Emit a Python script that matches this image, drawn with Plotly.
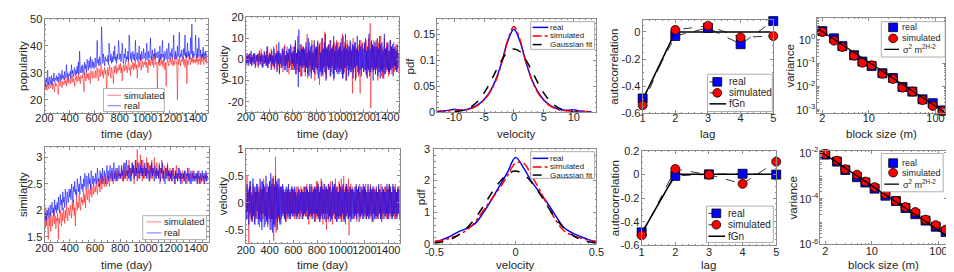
import plotly.graph_objects as go

W, H = 954, 272
FONT = "Liberation Sans, Arial, Helvetica, sans-serif"
AX = "#8c8c8c"
TXT = "#262626"
RED_T = "rgba(255,0,0,0.5)"
BLUE_T = "rgba(0,0,255,0.55)"

# ---------------- data ----------------
days = list(range(200, 1500, 5))

pop_real = [
    26, 27.5, 25, 28, 26.5, 31, 25.5, 27, 28.5, 26, 27, 29, 25.5, 28, 27, 30, 26.5, 28, 27.5, 29,
    27, 28.5, 26.5, 30, 28, 27, 29.5, 27.5, 31, 28, 29, 27.5, 30.5, 28, 29, 33, 28.5, 30, 27.5, 29.5,
    29, 30.5, 28, 33, 29.5, 31, 28.5, 30, 32, 29, 31, 29.5, 32.5, 30, 34, 29.5, 38, 31, 30, 32.5,
    30, 33, 31, 29.5, 34, 31.5, 33, 30.5, 35, 32, 31, 34.5, 32, 36, 31.5, 33, 35, 32, 34, 31.5,
    33, 35.5, 32, 34, 42, 33.5, 35, 32.5, 36, 34, 33, 47, 35, 33.5, 37, 34, 32.5, 36, 34.5, 35,
    34, 36.5, 33, 41, 35, 34.5, 37, 33.5, 36, 34, 38, 35, 40, 34.5, 36, 33.5, 37, 35, 42, 35.5,
    35, 37, 34, 36.5, 41, 35, 33.5, 37, 35.5, 39, 34, 36, 35, 38, 34.5, 44, 36, 35, 37.5, 34,
    36, 38, 35, 37, 34.5, 42, 36, 35, 37.5, 34, 36.5, 40, 35, 37, 34.5, 38, 36, 35, 39, 35.5,
    36, 37.5, 35, 41, 36, 34.5, 38, 35.5, 37, 43, 35, 36.5, 38.5, 34.5, 37, 36, 39, 35, 37.5, 36,
    35.5, 38, 36, 34, 40, 35, 37, 36, 42, 35.5, 37, 34.5, 38, 36, 35, 39, 36.5, 35, 41, 36,
    35, 37.5, 36, 39, 35.5, 37, 44, 36, 35, 38, 36.5, 35, 40, 36, 37.5, 45, 35.5, 37, 36, 38.5,
    36, 35, 39, 36.5, 44, 36, 37.5, 35.5, 41, 36, 38, 36.5, 35, 43, 37, 48, 36, 38, 35.5, 37,
    36.5, 44, 37, 35.5, 39, 36, 43, 37, 36, 38.5, 35.5, 37, 36, 39.5, 35, 37.5, 36, 38, 35.5, 37]
pop_sim = [
    25, 26, 24, 25.5, 23.5, 26.5, 25, 24, 26, 25, 24.5, 27, 25.5, 24, 26, 25, 23, 26.5, 25, 26,
    25.5, 24.5, 22, 27, 26, 25, 27.5, 26, 24.5, 27, 26.5, 25.5, 28, 26, 27, 25, 28.5, 26.5, 27.5, 26,
    27, 28, 26, 27.5, 29, 26.5, 28, 27, 25, 28.5, 27.5, 29, 26.5, 28, 30, 27, 28.5, 26, 29, 28,
    28, 29.5, 27, 23, 30, 28.5, 27, 31, 28, 29.5, 27.5, 30, 28, 26, 31, 29, 28, 30.5, 29, 28,
    29, 31, 28, 30.5, 32, 29, 27, 31.5, 30, 28.5, 33, 30, 29, 31, 28, 30.5, 32, 29.5, 31, 24,
    30, 32, 29, 31.5, 33, 30, 28, 32, 31, 29.5, 26, 32.5, 30, 31, 33, 29.5, 32, 30.5, 31, 33,
    31, 33.5, 30, 32, 27, 31.5, 33, 30.5, 32, 34, 31, 32.5, 30, 33.5, 35, 31, 32, 29, 33, 31.5,
    32, 34, 31, 33.5, 32, 35, 31.5, 33, 28, 32.5, 34, 32, 33.5, 36, 31, 33, 34.5, 32, 33, 34,
    33, 35.5, 32, 34, 33, 30, 34.5, 33, 35, 32.5, 34, 36, 33, 34.5, 32, 35, 37, 33, 34, 33.5,
    24, 34, 33, 35, 32.5, 34, 36, 33, 34.5, 32, 35, 33.5, 31, 34, 25, 33, 35, 34, 32.5, 34.5,
    34, 35.5, 33, 34, 36, 32.5, 34.5, 33, 35, 37, 33.5, 34, 20, 35, 33, 36, 34, 32.5, 35, 34,
    34.5, 36, 33, 35, 32, 34, 36.5, 26, 34.5, 33, 35, 37, 34, 33, 35.5, 34, 36, 33.5, 35, 34,
    35, 33.5, 36, 34, 37, 33, 35, 34.5, 36, 33, 35.5, 34, 37, 34.5, 33, 35, 36, 34, 35.5, 33]

vel1_real = [
    1, -2, 3, -1.5, 2, -3, 0.5, 2.5, -2, 4, -3, 1, -1, 2.5, -2, 3, -4, 1.5, 2, -1,
    2.5, -3, 1, 4, -2.5, 1.5, -1, 3, -4, 2, 0.5, -2, 3.5, -1.5, 2, -3, 6, -4, 1, -2,
    3, -1, 2, -5, 4, -2, 1.5, -3, 5, -4, 2, -1, 3, -6, 4, -2, 8, -7, 3, -2,
    2, -4, 5, -3, 1, 6, -5, 2, -3, 4, -6, 3, -1, 5, -4, 2, 7, -5, 3, -2,
    4, -3, 6, -5, 9, -7, 3, -2, 5, -13, 14, -6, 4, -3, 7, -8, 5, -4, 6, -3,
    5, -6, 8, -4, 3, -7, 10, -8, 4, -3, 6, -9, 7, -5, 3, -6, 9, -7, 5, -4,
    6, -5, 8, -9, 4, 7, -6, 3, -8, 10, -7, 5, -4, 8, -6, 12, -10, 5, -3, 6,
    -5, 7, -4, 9, -8, 5, -3, 6, -7, 11, -9, 4, -5, 7, -6, 8, -4, 5, -7, 6,
    -6, 8, -5, 4, -9, 11, -7, 6, -4, 12, -10, 5, -3, 7, -8, 6, -5, 9, -6, 4,
    -5, 7, -9, 6, -4, 8, -10, 5, -3, 11, -6, 4, -7, 9, -5, 6, -8, 7, -4, 5,
    -6, 8, -5, 10, -7, 4, -9, 6, -5, 12, -8, 5, -6, 9, -4, 7, -10, 6, -5, 8,
    -7, 6, -4, 10, -8, 5, -6, 11, -9, 7, -5, 8, -6, 4, -9, 12, -7, 5, -4, 6,
    -5, 8, -6, 4, -7, 9, -5, 6, -4, 7, -8, 5, -3, 6, -5, 4, -6, 7, -4, 3]
vel1_sim = [
    -1, 2, -3, 1.5, -2, 2.5, -1, 3, -2, 1, -3, 2, -1.5, 3, -2.5, 1, 2, -3, 1.5, -1,
    2, -4, 3, -1, 2.5, -2, 5, -3, 1, 2, -3.5, 4, -2, 1.5, -3, 4, -2, 6, -4, 2,
    -2, 3, -1, 5, -4, 2, -3, 6, -5, 1, 3, -2, 7, -5, 2, -3, 4, -6, 3, -1,
    -4, 3, 5, -6, 4, -3, 7, -5, 2, -2, 6, -4, 3, -7, 5, -3, 4, -2, 6, -5,
    3, -5, 6, -4, 8, -7, 3, -5, 11, -6, 4, -3, 7, -8, 5, -4, 6, -3, 5, -6,
    4, -8, 6, -3, 12, -9, 5, -4, 8, -6, 3, -7, 9, -5, 4, -3, 7, -10, 6, -4,
    5, -7, 9, -4, 6, -12, 8, -5, 4, -6, 10, -8, 5, -3, 13, -7, 6, -9, 5, -4,
    7, -5, 4, -8, 9, -6, 5, -4, 7, -10, 8, -5, 6, -3, 9, -7, 4, -6, 8, -5,
    6, -4, 10, -7, 12, -9, 5, -6, 8, -4, 7, -10, 9, -5, 4, -7, 6, -3, 8, -6,
    5, -16, 10, -6, 7, -4, 8, -9, 5, -3, 6, -8, 7, -5, -16, 9, 6, -4, 8, -5,
    -6, 4, 7, -5, 9, -8, 6, -4, 10, -6, 5, 17, -23, 8, -5, 7, -6, 9, -4, 6,
    -7, 9, -5, 6, -10, 8, -4, 7, -6, 11, -8, 5, -9, 6, -4, 10, -7, 5, -6, 8,
    -5, 7, -8, 4, -6, 9, -5, 6, -7, 5, -4, 8, -6, 5, -3, 7, -5, 4, -6, 3]

sim_real = [
    1.7, 1.85, 1.95, 1.8, 2.0, 1.9, 2.05, 1.85, 1.95, 2.1, 1.9, 2.0, 2.15, 1.95, 2.05, 1.9, 2.2, 2.0, 2.1, 1.95,
    2.15, 2.0, 2.25, 2.05, 1.95, 2.3, 2.1, 2.2, 2.0, 2.35, 2.15, 2.25, 2.05, 2.4, 2.2, 2.1, 2.35, 2.25, 2.15, 2.4,
    2.25, 2.4, 2.2, 2.5, 2.3, 2.15, 2.45, 2.35, 2.55, 2.3, 2.4, 2.25, 2.6, 2.4, 2.35, 2.5, 2.3, 2.65, 2.45, 2.4,
    2.5, 2.35, 2.6, 2.45, 2.7, 2.5, 2.4, 2.65, 2.55, 2.45, 2.7, 2.5, 2.6, 2.4, 2.75, 2.55, 2.5, 2.65, 2.45, 2.6,
    2.55, 2.7, 2.5, 2.65, 2.8, 2.55, 2.6, 2.45, 2.75, 2.6, 2.7, 2.5, 2.8, 2.6, 2.55, 2.75, 2.65, 2.5, 2.7, 2.85,
    2.6, 2.75, 2.55, 2.7, 2.85, 2.6, 2.65, 2.8, 2.55, 2.7, 2.9, 2.6, 2.75, 2.65, 2.55, 2.8, 2.7, 2.6, 2.85, 2.65,
    2.7, 2.6, 2.85, 2.65, 2.75, 2.55, 2.9, 2.7, 2.6, 2.8, 2.95, 2.65, 2.75, 2.6, 2.85, 2.7, 2.55, 2.8, 2.65, 2.9,
    2.7, 2.85, 2.6, 2.75, 2.95, 2.65, 2.8, 2.55, 2.9, 2.7, 2.75, 2.6, 2.85, 2.7, 2.95, 2.65, 2.8, 2.6, 2.75, 2.9,
    2.65, 2.8, 2.6, 2.9, 2.7, 2.75, 2.55, 2.85, 2.7, 2.6, 2.9, 2.65, 2.8, 2.7, 2.55, 2.85, 2.75, 2.6, 2.8, 2.65,
    2.75, 2.6, 2.85, 2.65, 2.55, 2.8, 2.7, 2.9, 2.6, 2.75, 2.65, 2.5, 2.8, 2.7, 2.6, 2.85, 2.65, 2.75, 2.55, 2.7,
    2.6, 2.75, 2.55, 2.7, 2.8, 2.6, 2.65, 2.5, 2.75, 2.6, 2.7, 2.55, 2.8, 2.65, 2.6, 2.75, 2.5, 2.7, 2.6, 2.65,
    2.7, 2.55, 2.75, 2.6, 2.5, 2.7, 2.65, 2.8, 2.55, 2.7, 2.6, 2.5, 2.75, 2.65, 2.55, 2.7, 2.6, 2.75, 2.55, 2.65,
    2.6, 2.7, 2.5, 2.75, 2.6, 2.65, 2.5, 2.7, 2.6, 2.55, 2.75, 2.6, 2.65, 2.5, 2.7, 2.6, 2.75, 2.55, 2.65, 2.6]
sim_sim = [
    1.8, 1.65, 2.05, 1.7, 1.9, 1.75, 1.45, 1.85, 1.7, 1.95, 1.6, 1.8, 1.9, 1.7, 1.85, 2.0, 1.75, 1.9, 1.65, 1.85,
    1.8, 1.95, 1.45, 1.85, 1.75, 2.0, 1.85, 1.7, 1.95, 1.8, 2.05, 1.9, 1.75, 2.0, 1.85, 2.1, 1.9, 1.8, 2.05, 1.95,
    1.9, 2.1, 1.95, 1.85, 2.15, 2.0, 2.2, 1.9, 2.05, 1.7, 2.1, 2.25, 2.0, 2.15, 2.05, 2.3, 2.1, 2.0, 2.25, 2.15,
    2.2, 2.1, 2.35, 2.15, 2.3, 2.05, 2.4, 2.25, 2.2, 2.45, 2.3, 2.15, 2.4, 2.3, 2.5, 2.25, 2.35, 2.45, 2.3, 2.4,
    2.45, 2.35, 2.55, 2.4, 2.3, 2.6, 2.45, 2.5, 2.35, 2.6, 2.5, 2.4, 2.65, 2.5, 2.55, 2.45, 2.7, 2.55, 2.45, 2.6,
    2.5, 2.65, 2.55, 2.45, 2.7, 2.6, 2.55, 2.75, 2.6, 2.5, 2.7, 2.65, 2.55, 2.8, 2.6, 2.7, 2.55, 2.75, 2.65, 2.6,
    2.7, 2.6, 2.8, 2.65, 2.55, 2.85, 2.7, 2.6, 2.9, 2.65, 2.75, 2.55, 2.85, 2.7, 2.95, 2.6, 2.8, 2.7, 2.55, 2.9,
    2.7, 2.85, 2.5, 2.8, 2.65, 2.95, 2.7, 3.15, 2.75, 2.6, 2.9, 2.7, 3.05, 2.65, 2.8, 2.55, 2.95, 2.7, 2.85, 2.6,
    2.8, 2.65, 3.0, 2.7, 2.6, 2.9, 2.75, 2.55, 2.85, 2.7, 2.95, 2.6, 2.8, 2.7, 3.0, 2.65, 2.75, 2.6, 2.9, 2.7,
    2.75, 2.6, 2.9, 2.5, 2.8, 2.7, 2.95, 2.6, 2.75, 2.55, 2.85, 2.7, 2.6, 2.8, 2.65, 2.9, 2.55, 2.75, 2.65, 2.8,
    2.6, 2.75, 2.55, 2.8, 2.65, 2.7, 2.5, 2.75, 2.6, 2.85, 2.65, 2.55, 2.7, 2.6, 2.8, 2.55, 2.7, 2.65, 2.5, 2.75,
    2.6, 2.7, 2.55, 2.75, 2.6, 2.65, 2.5, 2.7, 2.6, 2.8, 2.55, 2.65, 2.7, 2.5, 2.6, 2.75, 2.55, 2.65, 2.6, 2.7,
    2.55, 2.65, 2.7, 2.5, 2.6, 2.75, 2.55, 2.65, 2.5, 2.7, 2.6, 2.55, 2.7, 2.6, 2.5, 2.65, 2.55, 2.7, 2.6, 2.55]

vel2_real = [
    0.1, -0.3, 0.35, -0.15, 0.25, -0.4, 0.3, -0.2, 0.4, -0.3, 0.15, -0.35, 0.45, -0.25, 0.3, -0.4, 0.2, -0.3, 0.35, -0.15,
    0.3, -0.4, 0.2, -0.3, 0.45, -0.35, 0.25, -0.5, 0.4, -0.2, 0.35, -0.45, 0.3, -0.25, 0.5, -0.35, 0.2, -0.4, 0.3, -0.3,
    0.4, -0.5, 0.55, -0.3, 0.35, -0.55, 0.45, -0.4, 0.3, -0.45, 0.5, -0.3, 0.4, -0.5, 0.35, -0.25, 0.45, -0.35, 0.3, -0.4,
    0.3, -0.25, 0.35, -0.2, 0.25, -0.3, 0.2, -0.35, 0.3, -0.2, 0.25, -0.3, 0.35, -0.25, 0.2, -0.3, 0.25, -0.2, 0.3, -0.25,
    0.25, -0.2, 0.3, -0.25, 0.2, -0.3, 0.15, -0.25, 0.3, -0.2, 0.25, -0.3, 0.2, -0.15, 0.25, -0.3, 0.2, -0.25, 0.3, -0.2,
    0.2, -0.25, 0.3, -0.15, 0.25, -0.3, 0.2, -0.25, 0.35, -0.2, 0.3, -0.25, 0.2, -0.3, 0.25, -0.2, 0.3, -0.35, 0.25, -0.2,
    0.3, -0.25, 0.35, -0.3, 0.2, -0.35, 0.3, -0.25, 0.4, -0.3, 0.25, -0.2, 0.35, -0.3, 0.25, -0.35, 0.3, -0.2, 0.25, -0.3,
    0.35, -0.25, 0.3, -0.35, 0.2, -0.3, 0.4, -0.25, 0.3, -0.2, 0.35, -0.3, 0.25, -0.35, 0.3, -0.25, 0.2, -0.3, 0.35, -0.25,
    0.3, -0.35, 0.25, -0.2, 0.35, -0.3, 0.2, -0.35, 0.3, -0.25, 0.35, -0.2, 0.25, -0.3, 0.2, -0.25, 0.3, -0.35, 0.25, -0.3,
    0.25, -0.3, 0.2, -0.25, 0.3, -0.2, 0.35, -0.3, 0.25, -0.2, 0.3, -0.35, 0.2, -0.25, 0.3, -0.2, 0.25, -0.3, 0.35, -0.25,
    0.3, -0.2, 0.25, -0.3, 0.2, -0.25, 0.35, -0.3, 0.2, -0.25, 0.3, -0.2, 0.25, -0.35, 0.3, -0.2, 0.25, -0.3, 0.2, -0.25,
    0.3, -0.25, 0.2, -0.3, 0.35, -0.2, 0.25, -0.3, 0.2, -0.35, 0.3, -0.2, 0.25, -0.3, 0.2, -0.25, 0.3, -0.2, 0.35, -0.3,
    0.25, -0.3, 0.35, -0.2, 0.3, -0.25, 0.2, -0.3, 0.35, -0.25, 0.3, -0.2, 0.25, -0.3, 0.2, -0.25, 0.3, -0.2, 0.25, -0.3]
vel2_sim = [
    0.3, -0.2, 0.5, -0.3, 0.2, -0.75, 0.4, -0.25, 0.3, -0.35, 0.2, -0.3, 0.35, -0.2, 0.25, -0.4, 0.3, -0.25, 0.2, -0.3,
    0.35, -0.3, 0.25, -0.45, 0.3, -0.2, 0.4, -0.35, 0.25, -0.3, 0.45, -0.25, 0.3, -0.4, 0.2, -0.3, 0.35, -0.45, 0.3, -0.25,
    0.4, -0.35, 0.3, -0.5, 0.45, -0.3, 0.5, -0.7, 0.35, -0.4, 0.85, -0.55, 0.3, -0.35, 0.45, -0.3, 0.25, -0.4, 0.3, -0.25,
    -0.3, 0.25, -0.2, 0.3, -0.25, 0.2, -0.3, 0.25, -0.35, 0.2, -0.25, 0.3, -0.2, 0.25, -0.3, 0.2, -0.25, 0.3, -0.2, 0.25,
    -0.25, 0.2, -0.3, 0.25, -0.2, 0.3, -0.25, 0.2, -0.3, 0.25, -0.2, 0.15, -0.25, 0.3, -0.2, 0.25, -0.3, 0.2, -0.25, 0.3,
    -0.2, 0.3, -0.25, 0.35, -0.3, 0.2, -0.4, 0.3, -0.25, 0.2, -0.3, 0.35, -0.25, 0.3, -0.2, 0.25, -0.35, 0.3, -0.25, 0.4,
    -0.3, 0.4, -0.25, 0.3, -0.35, 0.25, -0.3, 0.45, -0.2, 0.3, -0.4, 0.25, -0.3, 0.35, -0.2, 0.3, -0.5, 0.25, -0.3, 0.35,
    -0.35, 0.3, -0.25, 0.4, -0.3, 0.25, -0.4, 0.3, -0.2, 0.35, -0.3, 0.45, -0.25, 0.3, -0.35, 0.2, -0.3, 0.4, -0.25, 0.3,
    -0.3, 0.45, -0.25, 0.3, -0.35, 0.5, -0.3, 0.25, -0.4, 0.35, -0.25, 0.3, -0.3, 0.45, -0.6, 0.3, -0.25, 0.35, -0.3, 0.25,
    0.3, -0.2, 0.25, -0.3, 0.2, -0.25, 0.3, -0.35, 0.25, -0.2, 0.3, -0.25, 0.35, -0.3, 0.2, -0.25, 0.3, -0.2, 0.25, -0.3,
    0.3, -0.25, 0.35, -0.3, 0.2, -0.25, 0.3, -0.2, 0.25, -0.3, 0.35, -0.25, 0.2, -0.3, 0.25, -0.35, 0.3, -0.2, 0.25, -0.3,
    0.25, -0.3, 0.2, -0.25, 0.3, -0.2, 0.25, -0.3, 0.35, -0.25, 0.2, -0.3, 0.25, -0.2, 0.3, -0.25, 0.2, -0.3, 0.25, -0.2,
    0.3, -0.25, 0.35, -0.2, 0.25, -0.3, 0.2, -0.25, 0.3, -0.2, 0.25, -0.3, 0.35, -0.25, 0.2, -0.3, 0.25, -0.2, 0.3, -0.25]

pdf1_x = [-13, -12, -11, -10, -9, -8, -7, -6, -5, -4, -3, -2, -1, 0,
          1, 2, 3, 4, 5, 6, 7, 8, 9, 10, 11, 12, 13]
pdf1_real = [0.002, 0.003, 0.004, 0.006, 0.004, 0.005, 0.009, 0.015, 0.025, 0.040,
             0.064, 0.098, 0.138, 0.160, 0.137, 0.097, 0.063, 0.040, 0.024, 0.014,
             0.008, 0.005, 0.004, 0.005, 0.003, 0.002, 0.001]
pdf1_sim = [0.001, 0.002, 0.003, 0.004, 0.004, 0.005, 0.008, 0.014, 0.024, 0.039,
            0.062, 0.097, 0.140, 0.165, 0.140, 0.097, 0.062, 0.038, 0.023, 0.013,
            0.007, 0.004, 0.003, 0.003, 0.002, 0.001, 0.001]
pdf1_gauss = [0, 0, 0, 0.001, 0.003, 0.006, 0.012, 0.022, 0.037, 0.057,
              0.080, 0.101, 0.117, 0.122, 0.117, 0.101, 0.080, 0.057, 0.037, 0.022,
              0.012, 0.006, 0.003, 0.001, 0, 0, 0]

pdf2_x = [-0.5, -0.45, -0.4, -0.35, -0.3, -0.25, -0.2, -0.15, -0.1, -0.05, 0,
          0.05, 0.1, 0.15, 0.2, 0.25, 0.3, 0.35, 0.4, 0.45, 0.5]
pdf2_real = [0.07, 0.15, 0.26, 0.40, 0.50, 0.65, 0.98, 1.38, 1.82, 2.25, 2.73,
             2.40, 1.97, 1.62, 1.28, 0.88, 0.52, 0.36, 0.25, 0.15, 0.08]
pdf2_sim = [0.10, 0.13, 0.20, 0.30, 0.45, 0.70, 1.05, 1.40, 1.75, 2.15, 2.55,
            2.55, 2.15, 1.70, 1.20, 0.75, 0.42, 0.28, 0.20, 0.13, 0.09]
pdf2_gauss = [0.04, 0.08, 0.16, 0.30, 0.51, 0.81, 1.18, 1.59, 1.94, 2.20, 2.30,
              2.20, 1.94, 1.59, 1.18, 0.81, 0.51, 0.30, 0.16, 0.08, 0.04]

lags = [1, 2, 3, 4, 5]
ac1_real = [-0.49, -0.03, 0.03, -0.09, 0.08]
ac1_sim = [-0.54, 0.015, 0.045, -0.04, -0.03]
ac1_fgn = [-0.5, 0, 0, 0, 0]
ac2_real = [-0.49, -0.013, 0.0, 0.005, -0.002]
ac2_sim = [-0.515, 0.045, -0.003, -0.08, 0.107]
ac2_fgn = [-0.5, 0, 0, 0, 0]

block = [2, 3, 4, 6, 8, 11, 16, 23, 32, 45, 64, 91, 128]
var1_real = [2.4, 1.17, 0.54, 0.22, 0.117, 0.076, 0.037, 0.023, 0.0095, 0.006, 0.0028, 0.0019, 0.00093]
var1_sim = [2.2, 0.93, 0.50, 0.21, 0.105, 0.081, 0.035, 0.021, 0.0089, 0.006, 0.0026, 0.00145, 0.00085]
fit1_m = [1.7, 140]
fit1_v = [3.1, 0.00076]
var2_real = [8.5e-3, 4.2e-3, 1.8e-3, 8.7e-4, 5.1e-4, 2.75e-4, 1.35e-4, 7.9e-5, 3.9e-5, 2.1e-5, 1.1e-5, 5.9e-6, 3.5e-6]
var2_sim = [9.1e-3, 4.6e-3, 1.95e-3, 1.12e-3, 5.6e-4, 3.2e-4, 1.6e-4, 7.9e-5, 4.3e-5, 2.6e-5, 1.2e-5, 6.9e-6, 4.4e-6]
fit2_m = [1.69, 135]
fit2_v = [0.0118, 2.3e-6]

time_ticks = [200, 400, 600, 800, 1000, 1200, 1400]

# ---------------- layout helpers ----------------
# panel boxes in pixels: left, right, top, bottom
PANELS = {
    1: (28, 194, 5, 104), 2: (233, 389, 3, 103), 3: (428, 590, 5, 103),
    4: (637, 770, 6, 104), 5: (815, 945, 4, 104),
    6: (28, 195, 139, 238), 7: (233, 390, 141, 240), 8: (425, 590, 141, 241),
    9: (636, 773, 143, 242), 10: (818, 947, 143, 241),
}
XSTAND = {8: -3}
YSTAND = {8: 1}


def sfx(n):
    return "" if n == 1 else str(n)


def mk_axis(n, letter, rng, tv, tt, typ="linear", minor=None):
    l, r, t, b = PANELS[n]
    dom = [l / W, r / W] if letter == "x" else [1 - b / H, 1 - t / H]
    other = "y" if letter == "x" else "x"
    d = dict(domain=dom, anchor=other + sfx(n), range=rng, type=typ,
             tickmode="array", tickvals=tv, ticktext=tt, tickangle=0,
             showline=True, linecolor=AX, linewidth=1, mirror="allticks",
             ticks="inside", ticklen=3, tickwidth=1, tickcolor=AX,
             tickfont=dict(family=FONT, size=11, color=TXT),
             showgrid=False, zeroline=False, fixedrange=True)
    if letter == "x":
        d["ticklabelstandoff"] = XSTAND.get(n, -6 if n <= 5 else -4)
    else:
        d["ticklabelstandoff"] = YSTAND.get(n, -1)
    mn = dict(ticks="inside", ticklen=1.5, tickwidth=1, tickcolor=AX, showgrid=False)
    if minor is not None:
        mn.update(minor)
        d["minor"] = mn
    return d


def lbl(vals):
    return [("%g" % v) for v in vals]


def logminor(lo, hi):
    out = []
    for e in range(lo, hi + 1):
        for k in range(2, 10):
            out.append(k * 10 ** e)
    return out


fig = go.Figure()


def add(n, **kw):
    kw.setdefault("showlegend", False)
    fig.add_trace(go.Scatter(xaxis="x" + sfx(n), yaxis="y" + sfx(n), **kw))


SQ = dict(symbol="square", size=9, color="blue", line=dict(color="black", width=0.8))
CI = dict(symbol="circle", size=9, color="red", line=dict(color="black", width=0.8))
DASHK = dict(color="black", width=0.8, dash="dash")

# Row 1
add(1, x=days, y=pop_sim, mode="lines", line=dict(color=RED_T, width=1), name="simulated")
add(1, x=days, y=pop_real, mode="lines", line=dict(color=BLUE_T, width=1), name="real")
add(2, x=days, y=vel1_sim, mode="lines", line=dict(color=RED_T, width=1), name="simulated")
add(2, x=days, y=vel1_real, mode="lines", line=dict(color=BLUE_T, width=1), name="real")
add(3, x=pdf1_x, y=pdf1_real, mode="lines", line=dict(color="blue", width=1.5, shape="spline"), name="real")
add(3, x=pdf1_x, y=pdf1_sim, mode="lines", line=dict(color="red", width=1.5, dash="dashdot", shape="spline"), name="simulated")
add(3, x=pdf1_x, y=pdf1_gauss, mode="lines", line=dict(color="black", width=1.5, dash="dash", shape="spline"), name="Gaussian fit")
add(4, x=lags, y=ac1_fgn, mode="lines", line=dict(color="black", width=1.5), name="fGn")
add(4, x=lags, y=ac1_real, mode="lines+markers", line=DASHK, marker=SQ, cliponaxis=False, name="real")
add(4, x=lags, y=ac1_sim, mode="lines+markers", line=DASHK, marker=CI, cliponaxis=False, name="simulated")
add(5, x=block, y=var1_real, mode="markers", marker=SQ, cliponaxis=False, name="real")
add(5, x=block, y=var1_sim, mode="markers", marker=CI, cliponaxis=False, name="simulated")
add(5, x=fit1_m, y=fit1_v, mode="lines", line=dict(color="black", width=1.3), name="fit")

# Row 2
add(6, x=days, y=sim_sim, mode="lines", line=dict(color=RED_T, width=1), name="simulated")
add(6, x=days, y=sim_real, mode="lines", line=dict(color=BLUE_T, width=1), name="real")
add(7, x=days, y=vel2_sim, mode="lines", line=dict(color=RED_T, width=1), name="simulated")
add(7, x=days, y=vel2_real, mode="lines", line=dict(color=BLUE_T, width=1), name="real")
add(8, x=pdf2_x, y=pdf2_real, mode="lines", line=dict(color="blue", width=1.5, shape="spline"), name="real")
add(8, x=pdf2_x, y=pdf2_sim, mode="lines", line=dict(color="red", width=1.5, dash="dashdot", shape="spline"), name="simulated")
add(8, x=pdf2_x, y=pdf2_gauss, mode="lines", line=dict(color="black", width=1.5, dash="dash", shape="spline"), name="Gaussian fit")
add(9, x=lags, y=ac2_fgn, mode="lines", line=dict(color="black", width=1.5), name="fGn")
add(9, x=lags, y=ac2_real, mode="lines+markers", line=DASHK, marker=SQ, cliponaxis=False, name="real")
add(9, x=lags, y=ac2_sim, mode="lines+markers", line=DASHK, marker=CI, cliponaxis=False, name="simulated")
add(10, x=block, y=var2_real, mode="markers", marker=SQ, cliponaxis=False, name="real")
add(10, x=block, y=var2_sim, mode="markers", marker=CI, cliponaxis=False, name="simulated")
add(10, x=fit2_m, y=fit2_v, mode="lines", line=dict(color="black", width=1.3), name="fit")

# axes
lay = {}
tmin = dict(tickmode="linear", tick0=200, dtick=50)
lay["xaxis"] = mk_axis(1, "x", [200, 1500], time_ticks, lbl(time_ticks), minor=tmin)
lay["yaxis"] = mk_axis(1, "y", [15, 50], [20, 30, 40, 50], lbl([20, 30, 40, 50]), minor=dict(tickmode="linear", tick0=0, dtick=2))
lay["xaxis2"] = mk_axis(2, "x", [200, 1500], time_ticks, lbl(time_ticks), minor=tmin)
lay["yaxis2"] = mk_axis(2, "y", [-25, 20], [-20, -10, 0, 10, 20], lbl([-20, -10, 0, 10, 20]), minor=dict(tickmode="linear", tick0=0, dtick=2))
lay["xaxis3"] = mk_axis(3, "x", [-12.8, 13.8], [-10, -5, 0, 5, 10], lbl([-10, -5, 0, 5, 10]), minor=dict(tickmode="linear", tick0=0, dtick=1))
lay["yaxis3"] = mk_axis(3, "y", [0, 0.18], [0, 0.05, 0.1, 0.15], lbl([0, 0.05, 0.1, 0.15]), minor=dict(tickmode="linear", tick0=0, dtick=0.01))
lay["xaxis4"] = mk_axis(4, "x", [1, 5], lags, lbl(lags), minor=dict(tickmode="linear", tick0=1, dtick=0.2))
lay["yaxis4"] = mk_axis(4, "y", [-0.6, 0.09], [-0.6, -0.4, -0.2, 0], lbl([-0.6, -0.4, -0.2, 0]), minor=dict(tickmode="linear", tick0=0, dtick=0.05))
lay["xaxis5"] = mk_axis(5, "x", [0.228, 2.146], [2, 10, 100], ["2", "10", "100"], typ="log",
                        minor=dict(tickmode="array", tickvals=logminor(0, 1)))
lay["yaxis5"] = mk_axis(5, "y", [-3.16, 0.95], [1e-3, 1e-2, 1e-1, 1],
                        ["10<sup>-3</sup>", "10<sup>-2</sup>", "10<sup>-1</sup>", "10<sup>0</sup>"], typ="log",
                        minor=dict(tickmode="array", tickvals=logminor(-4, 0)))

lay["xaxis6"] = mk_axis(6, "x", [200, 1500], time_ticks, lbl(time_ticks), minor=tmin)
lay["yaxis6"] = mk_axis(6, "y", [1.41, 3.2], [1.5, 2, 2.5, 3], lbl([1.5, 2, 2.5, 3]), minor=dict(tickmode="linear", tick0=0, dtick=0.1))
lay["xaxis7"] = mk_axis(7, "x", [200, 1500], time_ticks, lbl(time_ticks), minor=tmin)
lay["yaxis7"] = mk_axis(7, "y", [-0.75, 1], [-0.5, 0, 0.5, 1], lbl([-0.5, 0, 0.5, 1]), minor=dict(tickmode="linear", tick0=0, dtick=0.1))
lay["xaxis8"] = mk_axis(8, "x", [-0.5, 0.5], [-0.5, 0, 0.5], lbl([-0.5, 0, 0.5]), minor=dict(tickmode="linear", tick0=0, dtick=0.05))
lay["yaxis8"] = mk_axis(8, "y", [0, 3], [0, 1, 2, 3], lbl([0, 1, 2, 3]), minor=dict(tickmode="linear", tick0=0, dtick=0.2))
lay["xaxis9"] = mk_axis(9, "x", [1, 5], lags, lbl(lags), minor=dict(tickmode="linear", tick0=1, dtick=0.2))
lay["yaxis9"] = mk_axis(9, "y", [-0.6, 0.2], [-0.6, -0.4, -0.2, 0, 0.2], lbl([-0.6, -0.4, -0.2, 0, 0.2]), minor=dict(tickmode="linear", tick0=0, dtick=0.05))
lay["xaxis10"] = mk_axis(10, "x", [0.229, 2.13], [2, 10, 100], ["2", "10", "100"], typ="log",
                         minor=dict(tickmode="array", tickvals=logminor(0, 1)))
lay["yaxis10"] = mk_axis(10, "y", [-6.0, -1.9], [1e-6, 1e-4, 1e-2],
                         ["10<sup>-6</sup>", "10<sup>-4</sup>", "10<sup>-2</sup>"], typ="log",
                         minor=dict(tickmode="array", tickvals=logminor(-7, -2)))

annotations = []
shapes = []


def text(x, y, s, size=11, angle=0, anchor="center"):
    annotations.append(dict(x=x / W, y=1 - y / H, xref="paper", yref="paper", text=s,
                            showarrow=False, textangle=angle, xanchor=anchor, yanchor="middle",
                            font=dict(family=FONT, size=size, color=TXT), borderpad=0))


# axis titles
xtitles = {1: "time (day)", 2: "time (day)", 3: "velocity", 4: "lag", 5: "block size (m)",
           6: "time (day)", 7: "time (day)", 8: "velocity", 9: "lag", 10: "block size (m)"}
for n, s in xtitles.items():
    l, r, t, b = PANELS[n]
    text((l + r) / 2, 126 if n <= 5 else 263, s, size=11.5)

ytitles = [(1, 6, "popularity"), (2, 210, "velocity"), (3, 400, "pdf"), (4, 607, "autocorrelation"),
           (5, 787, "variance"), (6, 6, "similarity"), (7, 210, "velocity"), (8, 411, "pdf"),
           (9, 609, "autocorrelation"), (10, 790, "variance")]
for n, x, s in ytitles:
    l, r, t, b = PANELS[n]
    text(x, (t + b) / 2, s, size=11.5, angle=-90)


# legends (box + keys + labels)
def legend(box, items, fs):
    x0, y0, x1, y1 = box
    shapes.append(dict(type="rect", xref="paper", yref="paper", x0=x0 / W, x1=x1 / W,
                       y0=1 - y1 / H, y1=1 - y0 / H, fillcolor="white",
                       line=dict(color="#9a9a9a", width=0.8)))
    for it in items:
        y = it["y"]
        if "line" in it:
            lx0, lx1 = it["lx"]
            shapes.append(dict(type="line", xref="paper", yref="paper", x0=lx0 / W, x1=lx1 / W,
                               y0=1 - y / H, y1=1 - y / H, line=it["line"]))
        if "mk" in it:
            kind, color, cx, sz = it["mk"]
            s = sz / 2
            shapes.append(dict(type="rect" if kind == "square" else "circle", xref="paper", yref="paper",
                               x0=(cx - s) / W, x1=(cx + s) / W, y0=1 - (y + s) / H, y1=1 - (y - s) / H,
                               fillcolor=color, line=dict(color="black", width=0.8)))
        text(it["tx"], y, it["label"], size=fs, anchor="left")


SIG = "\u03c3<sup>2</sup> m<sup>2H-2</sup>"
# row 1
legend((88, 78, 150, 102), [
    dict(y=85, label="simulated", line=dict(color=RED_T, width=1), lx=(92, 106), tx=108),
    dict(y=96, label="real", line=dict(color=BLUE_T, width=1), lx=(92, 106), tx=108)], 9.5)
legend((523, 8, 588, 37), [
    dict(y=14, label="real", line=dict(color="blue", width=1.5), lx=(525, 541), tx=542),
    dict(y=23, label="simulated", line=dict(color="red", width=1.5, dash="dashdot"), lx=(525, 541), tx=542),
    dict(y=32, label="Gaussian fit", line=dict(color="black", width=1.5, dash="dash"), lx=(525, 541), tx=542)], 8)
legend((703, 63, 769, 102), [
    dict(y=71, label="real", line=DASHK, lx=(705, 722), mk=("square", "blue", 713, 9), tx=724),
    dict(y=82.5, label="simulated", line=DASHK, lx=(705, 722), mk=("circle", "red", 713, 9), tx=724),
    dict(y=94, label="fGn", line=dict(color="black", width=1.5), lx=(705, 722), tx=724)], 10)
legend((880, 8, 945, 45), [
    dict(y=14, label="real", mk=("square", "blue", 892, 9), tx=900),
    dict(y=25.5, label="simulated", mk=("circle", "red", 892, 9), tx=900),
    dict(y=37, label=SIG, line=dict(color="black", width=1.3), lx=(883, 898), tx=901)], 9)
# row 2
legend((128, 211, 193, 236), [
    dict(y=217.5, label="simulated", line=dict(color=RED_T, width=1), lx=(132, 147), tx=149),
    dict(y=229, label="real", line=dict(color=BLUE_T, width=1), lx=(132, 147), tx=149)], 9.5)
legend((523, 144, 588, 172), [
    dict(y=151, label="real", line=dict(color="blue", width=1.5), lx=(525, 541), tx=542),
    dict(y=160, label="simulated", line=dict(color="red", width=1.5, dash="dashdot"), lx=(525, 541), tx=542),
    dict(y=168.5, label="Gaussian fit", line=dict(color="black", width=1.5, dash="dash"), lx=(525, 541), tx=542)], 8)
legend((702, 201, 770, 239), [
    dict(y=208.5, label="real", line=DASHK, lx=(704, 721), mk=("square", "blue", 712, 9), tx=723),
    dict(y=220.5, label="simulated", line=DASHK, lx=(704, 721), mk=("circle", "red", 712, 9), tx=723),
    dict(y=232.5, label="fGn", line=dict(color="black", width=1.5), lx=(704, 721), tx=723)], 10)
legend((880, 146, 943, 186), [
    dict(y=156, label="real", mk=("square", "blue", 892, 9), tx=900),
    dict(y=166, label="simulated", mk=("circle", "red", 892, 9), tx=900),
    dict(y=178, label=SIG, line=dict(color="black", width=1.3), lx=(883, 898), tx=901)], 9)

fig.update_layout(width=W, height=H, margin=dict(l=0, r=0, t=0, b=0),
                  paper_bgcolor="white", plot_bgcolor="white", showlegend=False,
                  font=dict(family=FONT, color=TXT), annotations=annotations, shapes=shapes, **lay)
fig.write_html("out.html")
